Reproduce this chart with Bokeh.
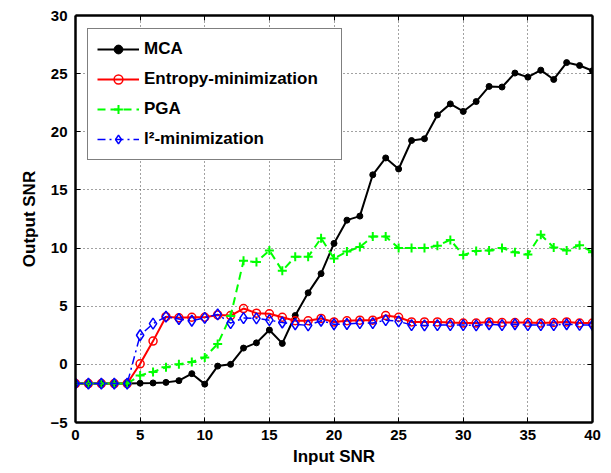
from bokeh.plotting import figure
from bokeh.models import (Range1d, LinearAxis, FixedTicker, Legend, LegendItem,
                          CustomLabelingPolicy)
from bokeh.embed import file_html
from bokeh.resources import INLINE

# ---------------- data ----------------
input_snr = list(range(0, 41))

mca = [-1.65, -1.65, -1.65, -1.65, -1.65, -1.62, -1.6, -1.55, -1.4, -0.8,
       -1.7, -0.15, 0.0, 1.4, 1.85, 2.95, 1.8, 4.2, 6.15, 7.8,
       10.4, 12.4, 12.75, 16.3, 17.75, 16.8, 19.25, 19.4, 21.45, 22.4,
       21.75, 22.6, 23.9, 23.85, 25.05, 24.7, 25.3, 24.5, 25.95, 25.7, 25.25]

entropy = [-1.65, -1.65, -1.65, -1.65, -1.65, 0.05, 2.0, 4.1, 4.0, 4.05,
           4.05, 4.25, 4.2, 4.8, 4.4, 4.35, 4.05, 3.75, 3.75, 3.95,
           3.65, 3.75, 3.8, 3.8, 4.2, 4.05, 3.65, 3.65, 3.65, 3.6,
           3.55, 3.55, 3.65, 3.6, 3.6, 3.6, 3.55, 3.6, 3.65, 3.55, 3.55]

pga = [-1.65, -1.65, -1.65, -1.65, -1.65, -0.95, -0.65, -0.25, 0.0, 0.2,
       0.6, 1.75, 4.15, 8.9, 8.8, 9.8, 8.05, 9.25, 9.25, 10.85,
       9.1, 9.7, 10.1, 11.0, 11.0, 10.0, 10.0, 10.0, 10.2, 10.7,
       9.4, 9.75, 9.8, 10.0, 9.65, 9.45, 11.15, 10.05, 9.8, 10.25, 9.65]

l2 = [-1.65, -1.65, -1.65, -1.65, -1.65, 2.5, 3.5, 4.1, 3.9, 3.75,
      4.0, 4.3, 3.55, 3.98, 3.95, 3.8, 3.6, 3.45, 3.35, 3.75,
      3.45, 3.47, 3.55, 3.55, 3.8, 3.7, 3.38, 3.35, 3.38, 3.38,
      3.38, 3.35, 3.45, 3.38, 3.45, 3.38, 3.38, 3.38, 3.45, 3.4, 3.38]

x_ticks = [0, 5, 10, 15, 20, 25, 30, 35, 40]
y_ticks = [-5, 0, 5, 10, 15, 20, 25, 30]

labels = ["MCA", "Entropy-minimization", "PGA", "l\u00b2-minimization"]

FONT = "Liberation Sans"

p = figure(width=611, height=473, x_range=Range1d(0, 40), y_range=Range1d(-5, 30),
           output_backend="svg", toolbar_location=None,
           min_border_left=75, min_border_right=19, min_border_top=15,
           min_border_bottom=51, x_axis_label="Input SNR", y_axis_label="Output SNR")
p.outline_line_color = None
p.background_fill_color = "white"
p.border_fill_color = "white"

for ax, ticks in ((p.xaxis[0], x_ticks), (p.yaxis[0], y_ticks)):
    ax.ticker = FixedTicker(ticks=ticks)
    ax.major_tick_in = 5
    ax.major_tick_out = 0
    ax.minor_tick_line_color = None
    ax.axis_line_width = 2.5
    ax.axis_line_color = "black"
    ax.major_tick_line_color = "black"
    ax.major_tick_line_width = 1
    ax.major_label_text_font = FONT
    ax.major_label_text_font_style = "bold"
    ax.major_label_text_font_size = "15px"
    ax.major_label_text_color = "black"
    ax.axis_label_text_font = FONT
    ax.axis_label_text_font_style = "bold"
    ax.axis_label_text_font_size = "17px"
    ax.axis_label_text_color = "black"

p.xaxis[0].major_label_standoff = 7
p.xaxis[0].axis_label_standoff = 4
p.yaxis[0].major_label_standoff = 8
p.yaxis[0].axis_label_standoff = 8

# frame on the top and right with inward ticks and no labels
for loc, ticks in (("right", y_ticks), ("above", x_ticks)):
    ax = LinearAxis(ticker=FixedTicker(ticks=ticks), major_tick_in=5, major_tick_out=0,
                    minor_tick_line_color=None, axis_line_width=2.5,
                    major_label_text_font_size="0px", major_label_standoff=0,
                    major_label_policy=CustomLabelingPolicy(code="return []"))
    p.add_layout(ax, loc)

for g in (p.xgrid[0], p.ygrid[0]):
    g.grid_line_color = "#444444"
    g.grid_line_dash = "1 3"
    g.grid_line_width = 1
p.xgrid[0].ticker = FixedTicker(ticks=x_ticks)
p.ygrid[0].ticker = FixedTicker(ticks=y_ticks)

items = []
l0 = p.line(input_snr, mca, line_color="black", line_width=2)
s0 = p.scatter(input_snr, mca, marker="circle", size=6, fill_color="black", line_color="black")
items.append(LegendItem(label=labels[0], renderers=[l0, s0]))

l1 = p.line(input_snr, entropy, line_color="#ff0000", line_width=2)
s1 = p.scatter(input_snr, entropy, marker="circle", size=8, fill_color=None,
               line_color="#ff0000", line_width=1.5)
items.append(LegendItem(label=labels[1], renderers=[l1, s1]))

l2r = p.line(input_snr, pga, line_color="#00ff00", line_width=2, line_dash="8 5")
s2 = p.scatter(input_snr, pga, marker="cross", size=9, line_color="#00ff00", line_width=2)
items.append(LegendItem(label=labels[2], renderers=[l2r, s2]))

l3 = p.line(input_snr, l2, line_color="#0000ff", line_width=1.5, line_dash="8 4 2 4")
s3 = p.scatter(input_snr, l2, marker="diamond", size=11, fill_color=None,
               line_color="#0000ff", line_width=1.5)
items.append(LegendItem(label=labels[3], renderers=[l3, s3]))

legend = Legend(items=items, location=(12, 262))
legend.label_text_font = FONT
legend.label_text_font_style = "bold"
legend.label_text_font_size = "17px"
legend.label_text_color = "black"
legend.padding = 9
legend.spacing = 8
legend.label_height = 22
legend.glyph_height = 22
legend.glyph_width = 42
legend.label_standoff = 5
legend.label_width = 188
legend.border_line_color = "black"
legend.border_line_width = 1
legend.background_fill_alpha = 1
legend.margin = 0
p.add_layout(legend, "center")

open("out.html", "w").write(file_html(p, INLINE))
